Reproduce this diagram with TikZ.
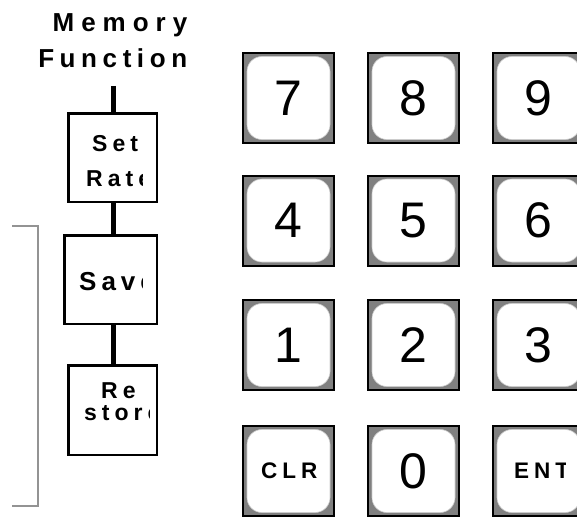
\documentclass[tikz,border=0pt]{standalone}
\usepackage{fontspec}
\setmainfont{Liberation Sans}[BoldFont={Liberation Sans Bold}]
\definecolor{keygray}{HTML}{808080}
\definecolor{brgray}{HTML}{939393}
\newdimen\lsamount
\lsamount=5pt
\def\lsp#1{\lspi#1\relax}
\def\lspi#1{\ifx#1\relax\else#1\kern\lsamount\expandafter\lspi\fi}
\newcommand\mykey[4]{%
  \node[keyout] (#1) at (#2,#3) {};
  \node[keyin] (#1in) at (#2,#3) {#4};}
\begin{document}
\begin{tikzpicture}[x=1pt,y=-1pt,
  keyout/.style={draw=black,line width=2pt,fill=keygray,minimum width=91pt,minimum height=90pt,inner sep=0pt},
  keyin/.style={draw=gray!40,line width=0.6pt,fill=white,rounded corners=15pt,minimum width=83pt,minimum height=83pt,inner sep=0pt,font=\fontsize{50}{50}\selectfont},
  keylab/.style={inner sep=0pt,anchor=base west,font=\bfseries\fontsize{22.5}{22.5}\selectfont},
  fbox/.style={draw=black,line width=2.5pt,fill=white,inner sep=0pt},
  btxt/.style={inner sep=0pt,anchor=base west,font=\bfseries\fontsize{23}{23}\selectfont},
  title/.style={inner sep=0pt,anchor=base east,font=\bfseries\fontsize{26}{26}\selectfont},
  conn/.style={line width=5pt},
  bracket/.style={draw=brgray,line width=2pt}]
\useasboundingbox (0,0) rectangle (577,516);
\clip (0,0) rectangle (577,516);
% title
\node[title] (t1) at (194.5,31.7) {\lsamount=7pt\lsp{Memory}};
\node[title] (t2) at (193,67.7) {\lsamount=5.6pt\lsp{Function}};
% memory function boxes
\coordinate (top) at (113,86);
\node[fbox,minimum width=88.5pt,minimum height=88.5pt] (setrate) at (112.5,157.5) {};
\node[fbox,minimum width=92.5pt,minimum height=88.5pt] (save) at (110.5,279.5) {};
\node[fbox,minimum width=88.5pt,minimum height=89.5pt] (restore) at (112.5,410) {};
\draw[conn] (top) -- (top |- setrate.north);
\draw[conn] (setrate.south -| top) -- (save.north -| top);
\draw[conn] (save.south -| top) -- (restore.north -| top);
\begin{scope}
  \clip (67,112) rectangle (142,203);
  \node[btxt] (lset) at (92,151.5) {\lsp{Set}};
  \node[btxt] (lrate) at (86,186.5) {\lsp{Rate}};
\end{scope}
\begin{scope}
  \clip (63,234) rectangle (142,325);
  \node[btxt,font=\bfseries\fontsize{26}{26}\selectfont] (lsave) at (79,290) {\lsp{Save}};
\end{scope}
\begin{scope}
  \clip (67,364) rectangle (149,456);
  \node[btxt] (lre) at (101,398) {\lsp{Re}};
  \node[btxt] (lstore) at (84,420) {\lsp{store}};
\end{scope}
% bracket
\coordinate (b1) at (12,226);
\coordinate (b2) at (38,226);
\coordinate (b3) at (38,506);
\coordinate (b4) at (12,506);
\draw[bracket] (b1) -- (b2) -- (b3) -- (b4);
% keypad
\mykey{k7}{288.5}{98}{7}
\mykey{k8}{413.5}{98}{8}
\mykey{k9}{538.5}{98}{9}
\mykey{k4}{288.5}{220.5}{4}
\mykey{k5}{413.5}{220.5}{5}
\mykey{k6}{538.5}{220.5}{6}
\mykey{k1}{288.5}{345}{1}
\mykey{k2}{413.5}{345}{2}
\mykey{k3}{538.5}{345}{3}
\mykey{kclr}{288.5}{471}{}
\mykey{k0}{413.5}{471}{0}
\mykey{kent}{538.5}{471}{}
\node[keylab] (lclr) at (261,478) {\lsp{CLR}};
\begin{scope}
  \clip (492,425) rectangle (565,517);
  \node[keylab] (lent) at (514,478) {\lsp{ENT}};
\end{scope}
\end{tikzpicture}
\end{document}
